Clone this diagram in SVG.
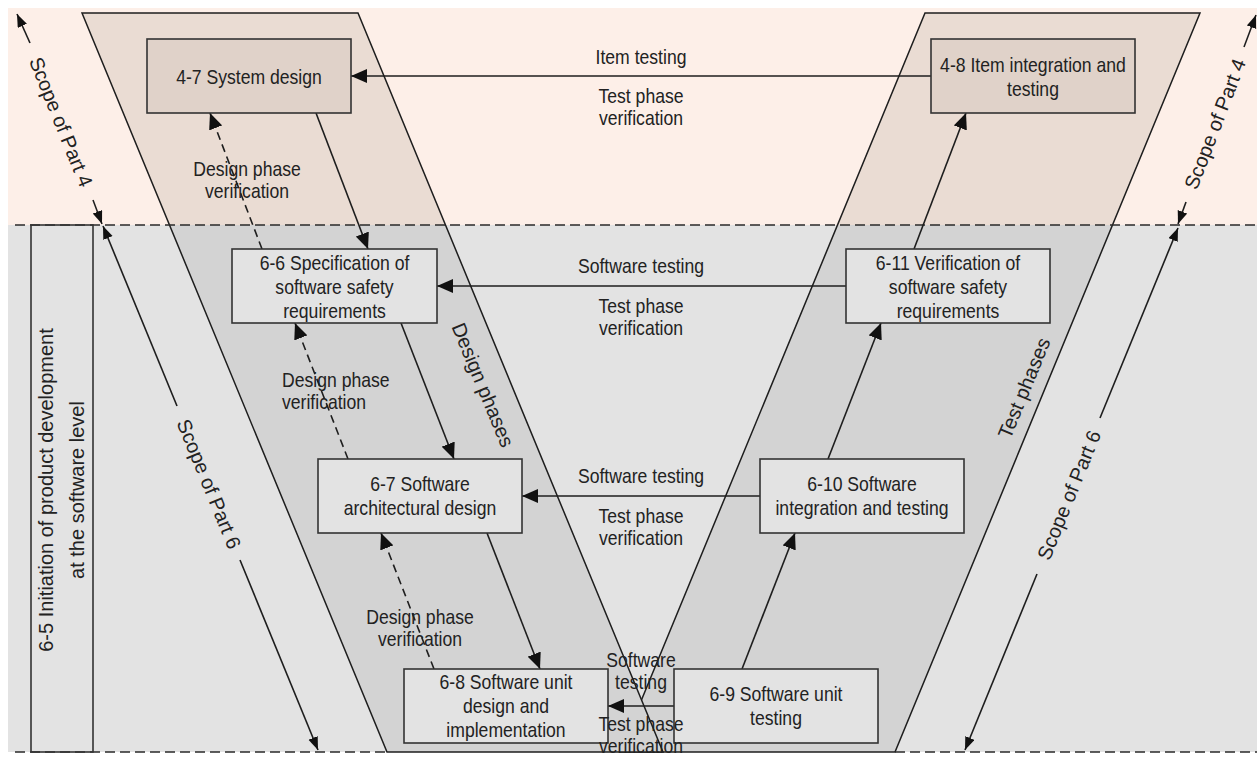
<svg xmlns="http://www.w3.org/2000/svg" width="1257" height="758" viewBox="0 0 1257 758">
<style>
.t{font-family:"Liberation Sans",Arial,Helvetica,sans-serif;font-size:20px;fill:#222;text-anchor:middle}
.ts{text-anchor:start}
.r{font-family:"Liberation Sans",Arial,Helvetica,sans-serif;font-size:20px;fill:#222;text-anchor:middle}
.ln{stroke:#1e1e1e;stroke-width:1.6;fill:none}
.edge{stroke:#1e1e1e;stroke-width:1.5;fill:none}
.dash{stroke-dasharray:8 5}
.hd{stroke:#2a2a2a;stroke-width:1.4;stroke-dasharray:10 5;fill:none}
.box{stroke:#333;stroke-width:1.6}
.bt{fill:#e0d2c9}
.bb{fill:#e3e3e3}
</style>
<defs>
<marker id="ah" markerUnits="userSpaceOnUse" markerWidth="17" markerHeight="14" refX="16" refY="7" orient="auto"><path d="M0,0 L16,7 L0,14 z" fill="#111"/></marker>
<marker id="as" markerUnits="userSpaceOnUse" markerWidth="14" markerHeight="11" refX="13" refY="5" orient="auto"><path d="M0,0 L13,5 L0,10 z" fill="#111"/></marker>
</defs>
<rect x="0" y="0" width="1257" height="758" fill="#ffffff"/>
<rect x="8" y="8" width="1249" height="217" fill="#fdefe8"/>
<rect x="8" y="225" width="1249" height="527" fill="#e3e3e3"/>
<g id="test-phases-band">
<polygon points="925,13 1200,13 1112.5,225 837.5,225" fill="#eadcd3"/>
<polygon points="837.5,225 1112.5,225 895,752 620,752" fill="#d3d3d3"/>
<path class="edge" d="M925,13 L1200,13 L895,752 L620,752 Z"/>
</g>
<g id="design-phases-band">
<polygon points="82,13 358,13 445.5,225 169.5,225" fill="#eadcd3"/>
<polygon points="169.5,225 445.5,225 663,752 387,752" fill="#d3d3d3"/>
<path class="edge" d="M82,13 L358,13 L663,752 L387,752 Z"/>
</g>
<line class="hd" x1="15" y1="225" x2="1257" y2="225"/>
<line class="hd" x1="15" y1="752" x2="387" y2="752"/>
<line class="hd" x1="895" y1="752" x2="1257" y2="752"/>
<g id="n65">
<rect x="31" y="225" width="62" height="527" fill="none" class="box"/>
<text class="r" transform="translate(53 490) rotate(-90)">6-5 Initiation of product development</text>
<text class="r" transform="translate(84 490) rotate(-90)">at the software level</text>
</g>
<g id="scopes">
<line class="ln" x1="30" y1="43" x2="17" y2="14" marker-end="url(#as)"/>
<line class="ln" x1="93" y1="200" x2="102" y2="224" marker-end="url(#as)"/>
<text class="r" transform="translate(61 122) rotate(68)" y="7">Scope of Part 4</text>
<line class="ln" x1="1244" y1="47" x2="1256" y2="15" marker-end="url(#as)"/>
<line class="ln" x1="1186" y1="202" x2="1178" y2="224" marker-end="url(#as)"/>
<text class="r" transform="translate(1215 124) rotate(-69)" y="7">Scope of Part 4</text>
<line class="ln" x1="177" y1="406" x2="103" y2="226" marker-end="url(#as)"/>
<line class="ln" x1="240" y1="560" x2="318" y2="750" marker-end="url(#as)"/>
<text class="r" transform="translate(209 484) rotate(67.7)" y="7">Scope of Part 6</text>
<line class="ln" x1="1100" y1="418" x2="1178" y2="228" marker-end="url(#as)"/>
<line class="ln" x1="1037" y1="574" x2="965" y2="750" marker-end="url(#as)"/>
<text class="r" transform="translate(1069 495) rotate(-67.8)" y="7">Scope of Part 6</text>
<text class="r" transform="translate(483 385) rotate(67.6)" y="7">Design phases</text>
<text class="r" transform="translate(1024 388) rotate(-67.6)" y="7">Test phases</text>
</g>
<g id="connectors">
<line class="ln" x1="316" y1="113" x2="368" y2="249" marker-end="url(#ah)"/>
<line class="ln" x1="401" y1="323" x2="454" y2="459" marker-end="url(#ah)"/>
<line class="ln" x1="487" y1="533" x2="540" y2="669" marker-end="url(#ah)"/>
<line class="ln dash" x1="262" y1="249" x2="210" y2="113" marker-end="url(#ah)"/>
<line class="ln dash" x1="348" y1="459" x2="295" y2="323" marker-end="url(#ah)"/>
<line class="ln dash" x1="434" y1="669" x2="381" y2="533" marker-end="url(#ah)"/>
<line class="ln" x1="914" y1="249" x2="966" y2="113" marker-end="url(#ah)"/>
<line class="ln" x1="828" y1="459" x2="881" y2="323" marker-end="url(#ah)"/>
<line class="ln" x1="742" y1="669" x2="795" y2="533" marker-end="url(#ah)"/>
<line class="ln" x1="931" y1="76" x2="351" y2="76" marker-end="url(#ah)"/>
<line class="ln" x1="846" y1="286" x2="437" y2="286" marker-end="url(#ah)"/>
<line class="ln" x1="760" y1="496" x2="522" y2="496" marker-end="url(#ah)"/>
<line class="ln" x1="674" y1="706" x2="608" y2="706" marker-end="url(#ah)"/>
</g>
<g id="n47"><rect x="147" y="39" width="204" height="74" class="box bt"/>
<text class="t" transform="translate(249 84) scale(.88 1)">4-7 System design</text></g>
<g id="n48"><rect x="931" y="39" width="204" height="74" class="box bt"/>
<text class="t" transform="translate(1033 72) scale(.88 1)"><tspan x="0">4-8 Item integration and</tspan><tspan x="0" dy="24">testing</tspan></text></g>
<g id="n66"><rect x="232" y="249" width="205" height="74" class="box bb"/>
<text class="t" transform="translate(334.5 270) scale(.88 1)"><tspan x="0">6-6 Specification of</tspan><tspan x="0" dy="24">software safety</tspan><tspan x="0" dy="24">requirements</tspan></text></g>
<g id="n611"><rect x="846" y="249" width="204" height="74" class="box bb"/>
<text class="t" transform="translate(948 270) scale(.88 1)"><tspan x="0">6-11 Verification of</tspan><tspan x="0" dy="24">software safety</tspan><tspan x="0" dy="24">requirements</tspan></text></g>
<g id="n67"><rect x="318" y="459" width="204" height="74" class="box bb"/>
<text class="t" transform="translate(420 491) scale(.88 1)"><tspan x="0">6-7 Software</tspan><tspan x="0" dy="24">architectural design</tspan></text></g>
<g id="n610"><rect x="760" y="459" width="204" height="74" class="box bb"/>
<text class="t" transform="translate(862 491) scale(.88 1)"><tspan x="0">6-10 Software</tspan><tspan x="0" dy="24">integration and testing</tspan></text></g>
<g id="n68"><rect x="404" y="669" width="204" height="74" class="box bb"/>
<text class="t" transform="translate(506 689) scale(.88 1)"><tspan x="0">6-8 Software unit</tspan><tspan x="0" dy="24">design and</tspan><tspan x="0" dy="24">implementation</tspan></text></g>
<g id="n69"><rect x="674" y="669" width="204" height="74" class="box bb"/>
<text class="t" transform="translate(776 701) scale(.88 1)"><tspan x="0">6-9 Software unit</tspan><tspan x="0" dy="24">testing</tspan></text></g>
<g id="labels">
<text class="t" transform="translate(641 64) scale(.88 1)">Item testing</text>
<text class="t" transform="translate(641 103) scale(.88 1)"><tspan x="0">Test phase</tspan><tspan x="0" dy="22">verification</tspan></text>
<text class="t" transform="translate(641 273) scale(.88 1)">Software testing</text>
<text class="t" transform="translate(641 313) scale(.88 1)"><tspan x="0">Test phase</tspan><tspan x="0" dy="22">verification</tspan></text>
<text class="t" transform="translate(641 483) scale(.88 1)">Software testing</text>
<text class="t" transform="translate(641 523) scale(.88 1)"><tspan x="0">Test phase</tspan><tspan x="0" dy="22">verification</tspan></text>
<text class="t" transform="translate(641 667) scale(.88 1)"><tspan x="0">Software</tspan><tspan x="0" dy="22">testing</tspan></text>
<text class="t" transform="translate(641 731) scale(.88 1)"><tspan x="0">Test phase</tspan><tspan x="0" dy="22">verification</tspan></text>
<text class="t" transform="translate(247 176) scale(.88 1)"><tspan x="0">Design phase</tspan><tspan x="0" dy="22">verification</tspan></text>
<text class="t ts" transform="translate(282 387) scale(.88 1)"><tspan x="0">Design phase</tspan><tspan x="0" dy="22">verification</tspan></text>
<text class="t" transform="translate(420 624) scale(.88 1)"><tspan x="0">Design phase</tspan><tspan x="0" dy="22">verification</tspan></text>
</g>
</svg>
